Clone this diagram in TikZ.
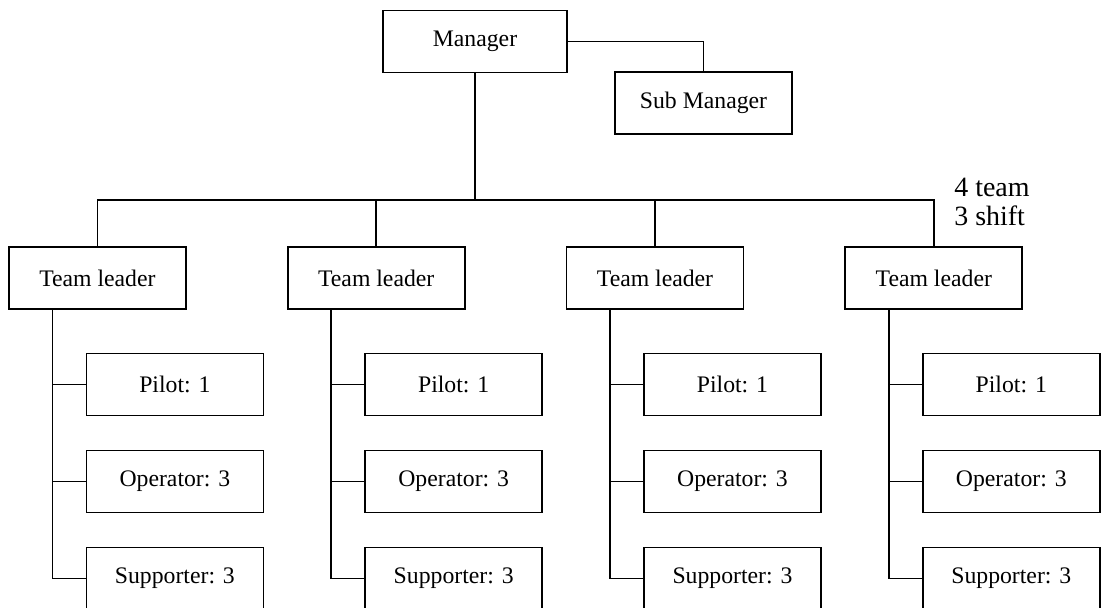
\documentclass[tikz,border=0pt]{standalone}
\usepackage{fontspec}
\setmainfont{Liberation Serif}
\usetikzlibrary{positioning}

\begin{document}
\begin{tikzpicture}[on grid, node distance=5.576cm,
		box/.style={draw, line width=1pt, minimum width=3.54cm, minimum height=1.24cm, inner sep=0pt, font=\fontsize{13.5}{16}\selectfont},
		link/.style={line width=1pt}]
		\useasboundingbox (0,0) rectangle (22.04,-12.16);
		
		% top
		\node[box, minimum width=3.68cm] (mgr) at (9.5,-0.83) {Manager};
		\node[box, below right = 1.23cm and 4.57cm of mgr] (sub) {Sub Manager};
		\coordinate[below = 3.17cm of mgr] (bus);
		
		% leaders
		\node[box] (tl1) at (1.948,-5.56) {Team leader};
		\node[box, right = of tl1] (tl2) {Team leader};
		\node[box, right = of tl2] (tl3) {Team leader};
		\node[box, right = of tl3] (tl4) {Team leader};
		\node[align=left, anchor=west, inner sep=0pt, font=\fontsize{15.9}{17}\selectfont] (shift) at (19.08,-4.04) {4 team\\3 shift};
		
		% crews
		\node[box, below right = 2.13cm and 1.55cm of tl1] (pil1) {Pilot: 1};
		\node[box, below = 1.94cm of pil1] (op1) {Operator: 3};
		\node[box, below = 1.94cm of op1] (sup1) {Supporter: 3};
		\node[box, below right = 2.13cm and 1.55cm of tl2] (pil2) {Pilot: 1};
		\node[box, below = 1.94cm of pil2] (op2) {Operator: 3};
		\node[box, below = 1.94cm of op2] (sup2) {Supporter: 3};
		\node[box, below right = 2.13cm and 1.55cm of tl3] (pil3) {Pilot: 1};
		\node[box, below = 1.94cm of pil3] (op3) {Operator: 3};
		\node[box, below = 1.94cm of op3] (sup3) {Supporter: 3};
		\node[box, below right = 2.13cm and 1.55cm of tl4] (pil4) {Pilot: 1};
		\node[box, below = 1.94cm of pil4] (op4) {Operator: 3};
		\node[box, below = 1.94cm of op4] (sup4) {Supporter: 3};
		
		% top lines
		\draw[link] (mgr.east) -| (sub.north)
		(mgr.south) -- (bus)
		(tl1.north) |- (bus) -| (tl4.north)
		(tl2.north) -- (tl2.north |- bus)
		(tl3.north) -- (tl3.north |- bus);
		
		% crew lines
		\draw[link] ([xshift=-0.9cm]tl1.south) |- (pil1.west)
		([xshift=-0.9cm]tl1.south) |- (op1.west)
		([xshift=-0.9cm]tl1.south) |- (sup1.west)
		([xshift=-0.9cm]tl2.south) |- (pil2.west)
		([xshift=-0.9cm]tl2.south) |- (op2.west)
		([xshift=-0.9cm]tl2.south) |- (sup2.west)
		([xshift=-0.9cm]tl3.south) |- (pil3.west)
		([xshift=-0.9cm]tl3.south) |- (op3.west)
		([xshift=-0.9cm]tl3.south) |- (sup3.west)
		([xshift=-0.9cm]tl4.south) |- (pil4.west)
		([xshift=-0.9cm]tl4.south) |- (op4.west)
		([xshift=-0.9cm]tl4.south) |- (sup4.west);
\end{tikzpicture}
\end{document}
